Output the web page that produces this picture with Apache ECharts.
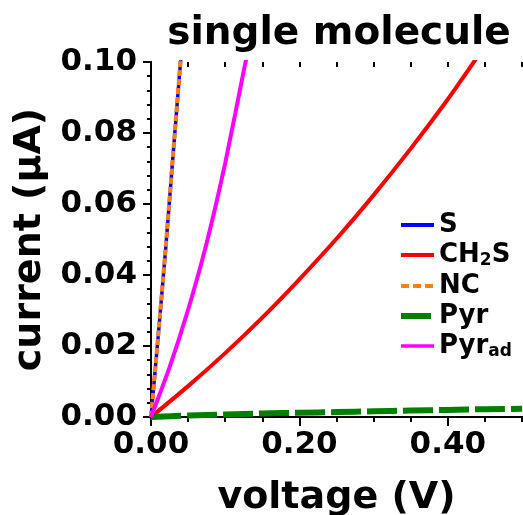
<!DOCTYPE html>
<html>
<head>
<meta charset="utf-8">
<script src="https://cdn.jsdelivr.net/npm/echarts@6/dist/echarts.min.js"></script>
<style>
html, body { margin: 0; padding: 0; background: #fff; }
#main { width: 523px; height: 515px; }
</style>
</head>
<body>
<div id="main"></div>
<script>
// voltage (V) / current (uA)
var vS = [0, 0.01, 0.02, 0.03, 0.04, 0.045];
var iS = [0, 0.0235, 0.048, 0.0745, 0.1005, 0.113];
var vNC = [0, 0.01, 0.02, 0.03, 0.04, 0.045];
var iNC = [0, 0.0237, 0.0483, 0.0748, 0.1008, 0.1135];
var vCH2S = [0, 0.05, 0.1, 0.15, 0.2, 0.25, 0.3, 0.35, 0.4, 0.45];
var iCH2S = [0, 0.0087, 0.018, 0.028, 0.0388, 0.0502, 0.0625, 0.0756, 0.0895, 0.1045];
var vPyr = [0, 0.05, 0.1, 0.15, 0.2, 0.25, 0.3, 0.35, 0.4, 0.45, 0.5];
var iPyr = [0, 0.0004, 0.0007, 0.001, 0.0012, 0.0014, 0.0016, 0.0018, 0.002, 0.0022, 0.0023];
var vPyrAd = [0, 0.025, 0.05, 0.075, 0.1, 0.125, 0.135];
var iPyrAd = [0, 0.014, 0.0302, 0.049, 0.0715, 0.0975, 0.1075];
var xMajor = [0, 0.2, 0.4];

function pairs(v, c) {
    return v.map(function (x, k) { return [x, c[k]]; });
}

var font = 'DejaVu Sans';
var black = '#000';
var tickStyle = { color: black, width: 2 };

var myChart = echarts.init(document.getElementById('main'));
var option = {
    animation: false,
    title: {
        text: 'single molecule',
        left: 334,
        top: 9,
        textAlign: 'center',
        textStyle: { fontFamily: font, fontWeight: 'bold', fontSize: 39, color: black }
    },
    legend: {
        orient: 'vertical',
        left: 393,
        top: 207,
        itemWidth: 33,
        itemHeight: 14,
        itemGap: 4,
        itemStyle: { opacity: 0 },
        data: [
            { name: 'S', lineStyle: { width: 4 } },
            { name: 'CH2S', lineStyle: { width: 4 } },
            { name: 'NC', lineStyle: { width: 4, type: [8, 4] } },
            { name: 'Pyr', lineStyle: { width: 6 } },
            { name: 'Pyrad', lineStyle: { width: 3.5 } }
        ],
        formatter: function (name) {
            if (name === 'CH2S') return '{n|CH}{s|2}{n|S}';
            if (name === 'Pyrad') return '{n|Pyr}{s|ad}';
            return '{n|' + name + '}';
        },
        textStyle: {
            fontFamily: font, fontWeight: 'bold', fontSize: 26, color: black,
            rich: {
                n: { fontFamily: font, fontWeight: 'bold', fontSize: 26, lineHeight: 28, color: black },
                s: { fontFamily: font, fontWeight: 'bold', fontSize: 17, color: black, verticalAlign: 'bottom' }
            }
        }
    },
    grid: [
        { left: 151, right: 1, top: 62, bottom: 98, outerBoundsMode: 'none' },
        { left: 151, right: 1, top: 62, bottom: 98, outerBoundsMode: 'none' }
    ],
    xAxis: [
        {
            type: 'value', gridIndex: 0, position: 'bottom', min: 0, max: 0.5,
            name: 'voltage (V)', nameLocation: 'middle', nameGap: 62,
            nameTextStyle: { fontFamily: font, fontWeight: 'bold', fontSize: 38, color: black },
            axisLine: { show: true, lineStyle: { color: black, width: 2 } },
            axisTick: { show: true, customValues: xMajor, length: 9, lineStyle: tickStyle },
            axisLabel: {
                show: true, customValues: xMajor, margin: 12,
                fontFamily: font, fontWeight: 'bold', fontSize: 31, color: black,
                formatter: function (v) { return v.toFixed(2); }
            },
            splitLine: { show: false }
        },
        {
            type: 'value', gridIndex: 0, position: 'top', min: 0, max: 0.5,
            axisLine: { show: true, lineStyle: { color: black, width: 2 } },
            axisTick: { show: true, inside: true, customValues: [0.2, 0.4], length: 9, lineStyle: tickStyle },
            axisLabel: { show: false },
            splitLine: { show: false }
        },
        {
            type: 'value', gridIndex: 1, position: 'bottom', min: 0, max: 0.5, interval: 0.05,
            axisLine: { show: false },
            axisTick: { show: true, length: 5, lineStyle: tickStyle },
            axisLabel: { show: false },
            splitLine: { show: false }
        },
        {
            type: 'value', gridIndex: 1, position: 'top', min: 0, max: 0.5, interval: 0.05,
            axisLine: { show: false },
            axisTick: { show: true, inside: true, length: 5, lineStyle: tickStyle },
            axisLabel: { show: false },
            splitLine: { show: false }
        }
    ],
    yAxis: [
        {
            type: 'value', gridIndex: 0, position: 'left', min: 0, max: 0.1, interval: 0.02,
            name: 'current (µA)', nameLocation: 'middle', nameGap: 95,
            nameTextStyle: { fontFamily: font, fontWeight: 'bold', fontSize: 38, color: black },
            axisLine: { show: true, lineStyle: { color: black, width: 2 } },
            axisTick: { show: true, length: 8, lineStyle: tickStyle },
            minorTick: { show: true, splitNumber: 5, length: 4, lineStyle: tickStyle },
            axisLabel: {
                margin: 14, fontFamily: font, fontWeight: 'bold', fontSize: 31, color: black,
                formatter: function (v) { return v.toFixed(2); }
            },
            splitLine: { show: false }
        },
        {
            type: 'value', gridIndex: 0, position: 'right', min: 0, max: 0.1, interval: 0.02,
            axisLine: { show: true, lineStyle: { color: black, width: 2 } },
            axisTick: { show: true, inside: true, length: 8, lineStyle: tickStyle },
            minorTick: { show: true, splitNumber: 5, length: 4, lineStyle: tickStyle },
            axisLabel: { show: false },
            splitLine: { show: false }
        },
        {
            type: 'value', gridIndex: 1, min: 0, max: 0.1, show: false
        }
    ],
    series: [
        {
            name: 'S', type: 'line', showSymbol: false, symbol: 'none',
            smooth: 0.2, data: pairs(vS, iS),
            lineStyle: { color: '#0000ff', width: 3.5 }, itemStyle: { color: '#0000ff' }
        },
        {
            name: 'CH2S', type: 'line', showSymbol: false, symbol: 'none',
            smooth: 0.2, data: pairs(vCH2S, iCH2S),
            lineStyle: { color: '#ff0000', width: 4 }, itemStyle: { color: '#ff0000' }
        },
        {
            name: 'NC', type: 'line', showSymbol: false, symbol: 'none',
            smooth: 0.2, data: pairs(vNC, iNC),
            lineStyle: { color: '#ff7f0e', width: 4, type: [6, 3] }, itemStyle: { color: '#ff7f0e' }
        },
        {
            name: 'Pyr', type: 'line', showSymbol: false, symbol: 'none',
            smooth: 0.2, data: pairs(vPyr, iPyr),
            lineStyle: { color: '#008000', width: 6, type: [30, 6] }, itemStyle: { color: '#008000' }
        },
        {
            name: 'Pyrad', type: 'line', showSymbol: false, symbol: 'none',
            smooth: 0.2, data: pairs(vPyrAd, iPyrAd),
            lineStyle: { color: '#ff00ff', width: 4 }, itemStyle: { color: '#ff00ff' }
        }
    ]
};
myChart.setOption(option);
</script>
</body>
</html>
